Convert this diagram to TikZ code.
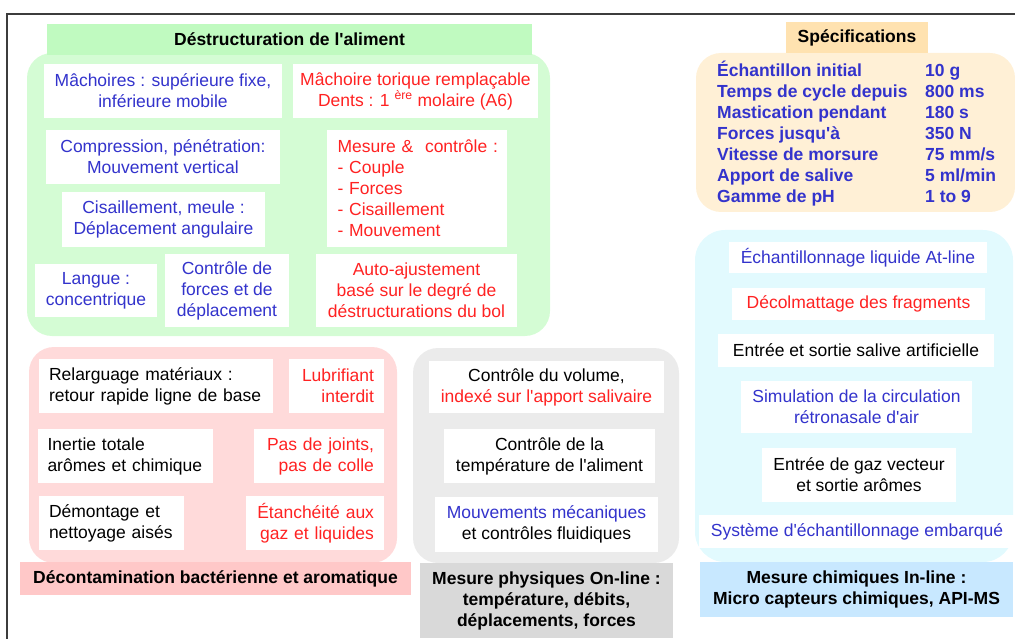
\documentclass[tikz,border=0pt]{standalone}
\usepackage{fontspec}
\setmainfont{Liberation Sans}[Ligatures=TeXOff]
\definecolor{bl}{RGB}{51,51,204}
\definecolor{rd}{RGB}{255,34,34}
\definecolor{gpan}{RGB}{212,252,212}
\definecolor{gttl}{RGB}{192,250,192}
\definecolor{ppan}{RGB}{255,218,218}
\definecolor{pttl}{RGB}{255,200,200}
\definecolor{hpan}{RGB}{235,235,235}
\definecolor{httl}{RGB}{217,217,217}
\definecolor{cpan}{RGB}{226,250,254}
\definecolor{cttl}{RGB}{200,232,255}
\definecolor{span}{RGB}{255,240,214}
\definecolor{sttl}{RGB}{255,226,176}
\definecolor{frm}{RGB}{60,60,60}
\newcommand{\tf}{\fontsize{17.5}{21}\selectfont}
\begin{document}
\begin{tikzpicture}[x=1pt,y=-1pt,
  panel/.style={fill=#1, rounded corners=25pt, inner sep=0pt},
  ttl/.style={fill=#1, inner sep=0pt, align=center, font=\tf\bfseries, text=black},
  wb/.style={fill=white, inner sep=0pt, align=center, font=\tf},
  lbox/.style={wb, align=left, inner xsep=10pt},
  rbox/.style={wb, align=right, inner xsep=10pt},
  spec/.style={inner sep=0pt, align=left, font=\tf\bfseries, text=bl, anchor=west}
]
\useasboundingbox (0,0) rectangle (1015,639);
\draw[line width=1.5pt, frm] (7,639) -- (7,14) -- (1015,14);

% ---- green panel
\node[panel=gpan, minimum width=523pt, minimum height=283pt] (gpanel) at (288.5,194.5) {};
\node[ttl=gttl, minimum width=485pt, minimum height=31pt] (gtitle) at (289.5,39.5) {Déstructuration de l'aliment};
\node[wb, text=bl, minimum width=238pt, minimum height=54pt] (g1) at (163,91) {Mâchoires : supérieure fixe,\\inférieure mobile};
\node[wb, text=rd, minimum width=245pt, minimum height=54pt] (g2) at (415.5,91) {Mâchoire torique remplaçable\\Dents : 1 \textsuperscript{ère} molaire (A6)};
\node[wb, text=bl, minimum width=234pt, minimum height=54pt] (g3) at (163,157) {Compression, pénétration:\\Mouvement vertical};
\node[lbox, text=rd, text width=159pt, minimum width=180pt, minimum height=117pt, inner xsep=10.5pt] (g4) at (417,188.5) {\mbox{Mesure \&\ \ contrôle :}\\- Couple\\- Forces\\- Cisaillement\\- Mouvement};
\node[wb, text=bl, minimum width=203pt, minimum height=55pt] (g5) at (163.5,219.5) {Cisaillement, meule :\\Déplacement angulaire};
\node[wb, text=bl, minimum width=122pt, minimum height=53pt] (g6) at (96,290.5) {Langue :\\concentrique};
\node[wb, text=bl, minimum width=124pt, minimum height=73pt] (g7) at (227,290.5) {Contrôle de\\forces et de\\déplacement};
\node[wb, text=rd, minimum width=201pt, minimum height=73pt] (g8) at (416.5,290.5) {Auto-ajustement\\basé sur le degré de\\déstructurations du bol};

% ---- specifications
\node[panel=span, minimum width=319pt, minimum height=159pt] (spanel) at (855.5,132.5) {};
\node[ttl=sttl, minimum width=142pt, minimum height=31pt] (stitle) at (857,37.5) {Spécifications};
\node[spec] (sleft) at (717,133.5) {Échantillon initial\\Temps de cycle depuis\\Mastication pendant\\Forces jusqu'à\\Vitesse de morsure\\Apport de salive\\Gamme de pH};
\node[spec] (sright) at (925,133.5) {10 g\\800 ms\\180 s\\350 N\\75 mm/s\\5 ml/min\\1 to 9};

% ---- pink panel
\node[panel=ppan, minimum width=368pt, minimum height=216pt] (ppanel) at (213,455) {};
\node[ttl=pttl, minimum width=391pt, minimum height=33pt] (ptitle) at (215.5,578.5) {Décontamination bactérienne et aromatique};
\node[lbox, text=black, text width=214pt, minimum width=234pt, minimum height=54pt] (p1) at (156,386) {Relarguage matériaux :\\retour rapide ligne de base};
\node[rbox, text=rd, text width=75pt, minimum width=95pt, minimum height=54pt] (p2) at (336.5,386) {Lubrifiant\\interdit};
\node[lbox, text=black, text width=155pt, minimum width=175pt, minimum height=54pt] (p3) at (125,456) {Inertie totale\\arômes et chimique};
\node[rbox, text=rd, text width=110pt, minimum width=130pt, minimum height=54pt] (p4) at (319,456) {Pas de joints,\\pas de colle};
\node[lbox, text=black, text width=125pt, minimum width=145pt, minimum height=54pt] (p5) at (111.5,523) {Démontage et\\nettoyage aisés};
\node[rbox, text=rd, text width=118.5pt, minimum width=138.5pt, minimum height=54pt] (p6) at (314.75,523) {Étanchéité aux\\gaz et liquides};

% ---- gray panel
\node[panel=hpan, minimum width=266pt, minimum height=215pt] (hpanel) at (546,455.5) {};
\node[ttl=httl, minimum width=253pt, minimum height=75pt] (htitle) at (546.5,600.5) {Mesure physiques On-line :\\température, débits,\\déplacements, forces};
\node[wb, text=black, minimum width=235pt, minimum height=52pt] (q1) at (546.5,387) {Contrôle du volume,\\\textcolor{rd}{indexé sur l'apport salivaire}};
\node[wb, text=black, minimum width=211pt, minimum height=54pt] (q2) at (549.5,456) {Contrôle de la\\température de l'aliment};
\node[wb, text=black, minimum width=223pt, minimum height=55pt] (q3) at (546.5,524.5) {\textcolor{bl}{Mouvements mécaniques}\\et contrôles fluidiques};

% ---- cyan panel
\node[panel=cpan, rounded corners=30pt, minimum width=318pt, minimum height=332pt] (cpanel) at (854,396) {};
\node[ttl=cttl, minimum width=313pt, minimum height=55pt] (ctitle) at (856.5,589.5) {Mesure chimiques In-line :\\Micro capteurs chimiques, API-MS};
\node[wb, text=bl, minimum width=258pt, minimum height=31pt] (c1) at (858,257.5) {Échantillonnage liquide At-line};
\node[wb, text=rd, minimum width=253pt, minimum height=32pt] (c2) at (858.5,304) {Décolmattage des fragments};
\node[wb, text=black, minimum width=276pt, minimum height=33pt] (c3) at (856,350.5) {Entrée et sortie salive artificielle};
\node[wb, text=bl, minimum width=231pt, minimum height=52pt] (c4) at (856.5,407) {Simulation de la circulation\\rétronasale d'air};
\node[wb, text=black, minimum width=194pt, minimum height=54pt] (c5) at (859,475) {Entrée de gaz vecteur\\et sortie arômes};
\node[wb, text=bl, minimum width=316pt, minimum height=33pt] (c6) at (857,531.5) {Système d'échantillonnage embarqué};
\end{tikzpicture}
\end{document}
